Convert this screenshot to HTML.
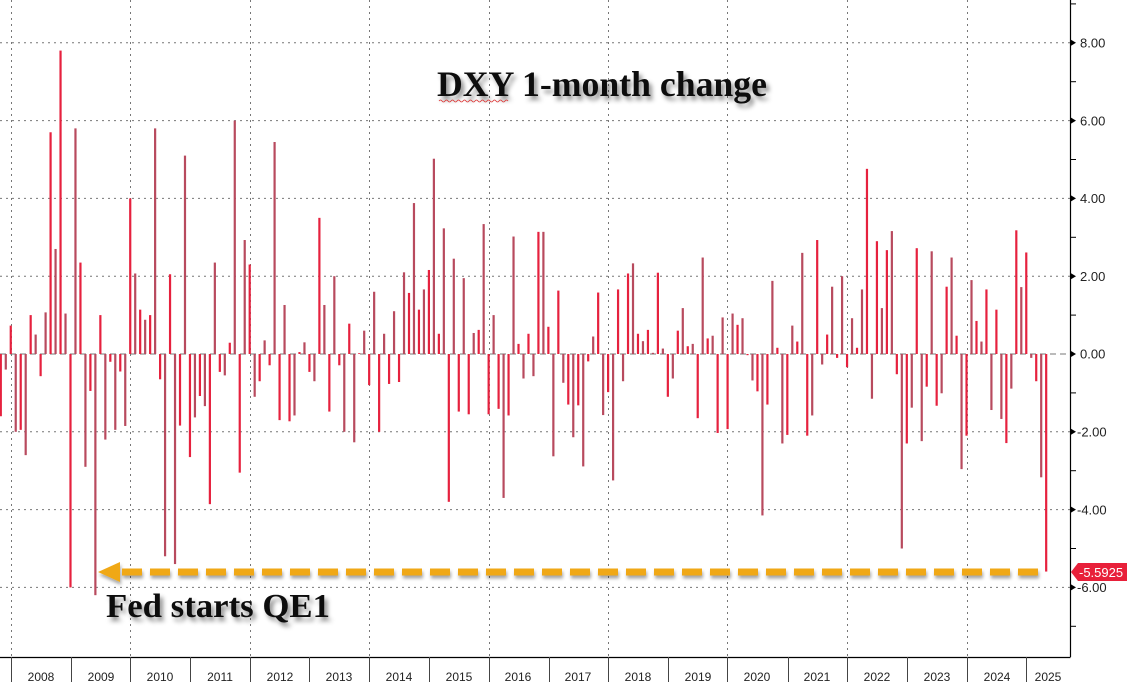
<!DOCTYPE html>
<html><head><meta charset="utf-8"><style>
html,body{margin:0;padding:0;background:#fff;width:1127px;height:682px;overflow:hidden}
svg{display:block}
</style></head><body>
<svg id="c" width="1127" height="682" xmlns="http://www.w3.org/2000/svg" font-family="Liberation Sans, sans-serif">
<defs>
<filter id="sh" x="-10%" y="-30%" width="130%" height="180%"><feDropShadow dx="3" dy="4" stdDeviation="2.5" flood-color="#000" flood-opacity="0.45"/></filter>
<filter id="sh2" filterUnits="userSpaceOnUse" x="80" y="550" width="1000" height="45"><feDropShadow dx="1" dy="3" stdDeviation="1.5" flood-color="#000" flood-opacity="0.35"/></filter>
</defs>
<g stroke="#777" stroke-width="1" stroke-dasharray="2,4">
<line x1="0" y1="42.8" x2="1070" y2="42.8"/>
<line x1="0" y1="120.6" x2="1070" y2="120.6"/>
<line x1="0" y1="198.4" x2="1070" y2="198.4"/>
<line x1="0" y1="276.2" x2="1070" y2="276.2"/>
<line x1="0" y1="431.8" x2="1070" y2="431.8"/>
<line x1="0" y1="509.6" x2="1070" y2="509.6"/>
<line x1="0" y1="587.4" x2="1070" y2="587.4"/>
<line x1="11.5" y1="0" x2="11.5" y2="657"/>
<line x1="130.5" y1="0" x2="130.5" y2="657"/>
<line x1="250.5" y1="0" x2="250.5" y2="657"/>
<line x1="369.5" y1="0" x2="369.5" y2="657"/>
<line x1="489.5" y1="0" x2="489.5" y2="657"/>
<line x1="608.5" y1="0" x2="608.5" y2="657"/>
<line x1="727.5" y1="0" x2="727.5" y2="657"/>
<line x1="847.5" y1="0" x2="847.5" y2="657"/>
<line x1="967.5" y1="0" x2="967.5" y2="657"/>
</g>
<line x1="0" y1="354" x2="1070" y2="354" stroke="#777" stroke-width="1" stroke-dasharray="6,4"/>
<g id="bars"></g>
<g filter="url(#sh2)">
<line x1="122" y1="572" x2="1046" y2="572" stroke="#f0a818" stroke-width="7" stroke-dasharray="20,8"/>
<polygon points="98,572 120,562 120,582" fill="#f0a818"/>
</g>
<line x1="1070.5" y1="0" x2="1070.5" y2="657" stroke="#000" stroke-width="1.2"/>
<line x1="0" y1="657.5" x2="1070.5" y2="657.5" stroke="#000" stroke-width="1.2"/>
<g stroke="#444" stroke-width="1">
<line x1="11.5" y1="657" x2="11.5" y2="682"/><line x1="71.5" y1="657" x2="71.5" y2="682"/>
<line x1="130.5" y1="657" x2="130.5" y2="682"/><line x1="190.5" y1="657" x2="190.5" y2="682"/>
<line x1="250.5" y1="657" x2="250.5" y2="682"/><line x1="309.5" y1="657" x2="309.5" y2="682"/>
<line x1="369.5" y1="657" x2="369.5" y2="682"/><line x1="429.5" y1="657" x2="429.5" y2="682"/>
<line x1="489.5" y1="657" x2="489.5" y2="682"/><line x1="549.5" y1="657" x2="549.5" y2="682"/>
<line x1="608.5" y1="657" x2="608.5" y2="682"/><line x1="668.5" y1="657" x2="668.5" y2="682"/>
<line x1="727.5" y1="657" x2="727.5" y2="682"/><line x1="788.5" y1="657" x2="788.5" y2="682"/>
<line x1="847.5" y1="657" x2="847.5" y2="682"/><line x1="907.5" y1="657" x2="907.5" y2="682"/>
<line x1="967.5" y1="657" x2="967.5" y2="682"/><line x1="1026.5" y1="657" x2="1026.5" y2="682"/>
</g>
<g font-size="12" fill="#222" text-anchor="middle">
<text x="41" y="681">2008</text><text x="101" y="681">2009</text><text x="160" y="681">2010</text>
<text x="220" y="681">2011</text><text x="280" y="681">2012</text><text x="339" y="681">2013</text>
<text x="399" y="681">2014</text><text x="459" y="681">2015</text><text x="518" y="681">2016</text>
<text x="578" y="681">2017</text><text x="638" y="681">2018</text><text x="698" y="681">2019</text>
<text x="757" y="681">2020</text><text x="817" y="681">2021</text><text x="877" y="681">2022</text>
<text x="937" y="681">2023</text><text x="997" y="681">2024</text><text x="1048" y="681">2025</text>
</g>
<g id="yt"></g>
<g font-size="13" fill="#222">
<text x="1080" y="47.5">8.00</text>
<text x="1080" y="125.3">6.00</text>
<text x="1080" y="203.1">4.00</text>
<text x="1080" y="280.9">2.00</text>
<text x="1080" y="358.7">0.00</text>
<text x="1077" y="436.5">-2.00</text>
<text x="1077" y="514.3">-4.00</text>
<text x="1077" y="592.1">-6.00</text>
</g>
<polygon points="1071,572 1078,563 1127,563 1127,581 1078,581" fill="#e8203a"/>
<text x="1079" y="577" font-size="13" fill="#fff">-5.5925</text>
<text x="437" y="96" font-family="Liberation Serif, serif" font-size="36" font-weight="bold" fill="#111" filter="url(#sh)" textLength="330" lengthAdjust="spacingAndGlyphs">DXY 1-month change</text>
<path d="M439 101 q1.5 -2 3 0 t3 0 t3 0 t3 0 t3 0 t3 0 t3 0 t3 0 t3 0 t3 0 t3 0 t3 0 t3 0 t3 0 t3 0 t3 0 t3 0 t3 0 t3 0 t3 0 t3 0 t3 0 t3 0" stroke="#d33" stroke-width="0.8" fill="none"/>
<text x="106" y="617" font-family="Liberation Serif, serif" font-size="34" font-weight="bold" fill="#111" filter="url(#sh)" textLength="224" lengthAdjust="spacingAndGlyphs">Fed starts QE1</text>
</svg>
<script>
var v=[-1.6,-0.4,0.73,-2.0,-1.95,-2.6,1.0,0.5,-0.57,1.07,5.7,2.7,7.8,1.04,-6.0,5.8,2.35,-2.9,-0.95,-6.2,1.0,-2.2,-0.2,-1.95,-0.45,-1.85,4.0,2.07,1.14,0.88,1.0,5.8,-0.65,-5.2,2.05,-5.4,-1.84,5.1,-2.65,-1.63,-1.08,-1.34,-3.86,2.35,-0.46,-0.55,0.29,6.0,-3.05,2.93,2.3,-1.1,-0.7,
0.35,-0.29,5.45,-1.7,1.26,-1.73,-1.58,0.05,0.3,-0.46,-0.7,3.5,1.26,-1.48,2.0,-0.29,-2.0,0.78,-2.27,0.02,0.6,-0.8,1.6,-2.0,0.52,-0.77,1.1,-0.72,2.1,1.57,3.88,1.14,1.66,2.16,5.02,0.52,3.23,-3.8,2.45,-1.48,1.95,-1.55,0.54,0.62,3.34,-1.55,1.0,-1.41,-3.7,-1.58,3.02,0.26,-0.63,0.52,-0.57,
3.14,3.14,0.7,-2.63,1.63,-0.74,-1.3,-2.14,-1.32,-2.89,-0.19,0.45,1.58,-1.57,-0.98,-3.25,1.66,-0.7,2.07,2.33,0.52,0.33,0.62,0.03,2.09,0.14,-1.1,-0.63,0.6,1.18,0.2,0.26,-1.65,2.48,0.4,0.47,-2.03,0.94,-1.93,1.04,0.75,0.92,-0.03,-0.68,-0.96,-4.15,-1.3,1.88,0.16,-2.3,-2.08,0.73,0.32,
2.6,-2.1,-1.58,2.93,-0.27,0.5,1.73,-0.1,2.0,-0.34,0.92,0.16,1.66,4.76,-1.15,2.9,1.18,2.67,3.16,-0.52,-5.0,-2.3,-1.38,2.72,-2.24,-0.84,2.64,-1.33,-1.01,1.73,2.48,0.47,-2.96,-2.1,1.9,0.85,0.32,1.66,-1.44,1.14,-1.67,-2.29,-0.89,3.18,1.72,2.61,-0.1,-0.7,-3.17,-5.5925];
var g=document.getElementById('bars'),s='',k=38.9,z=354;
for(var i=0;i<v.length;i++){var x=0.7+i*4.978-1,h=Math.abs(v[i])*k,y=v[i]>0?z-h:z;
s+='<rect x="'+x.toFixed(2)+'" y="'+y.toFixed(2)+'" width="2.2" height="'+Math.max(h,0.8).toFixed(2)+'" fill="'+(i%2?'#b84a5e':'#e6213e')+'"/>';}
g.innerHTML=s;
var t='';for(var j=-7;j<=9;j++){var yy=z-j*k;if(yy<0||yy>657)continue;
if(j%2==0)t+='<polygon points="1071,'+(yy-3)+' 1076,'+yy+' 1071,'+(yy+3)+'" fill="#000"/>';else t+='<line x1="1070" y1="'+yy+'" x2="1076" y2="'+yy+'" stroke="#000"/>';}
document.getElementById('yt').innerHTML=t;
</script>
</body></html>
